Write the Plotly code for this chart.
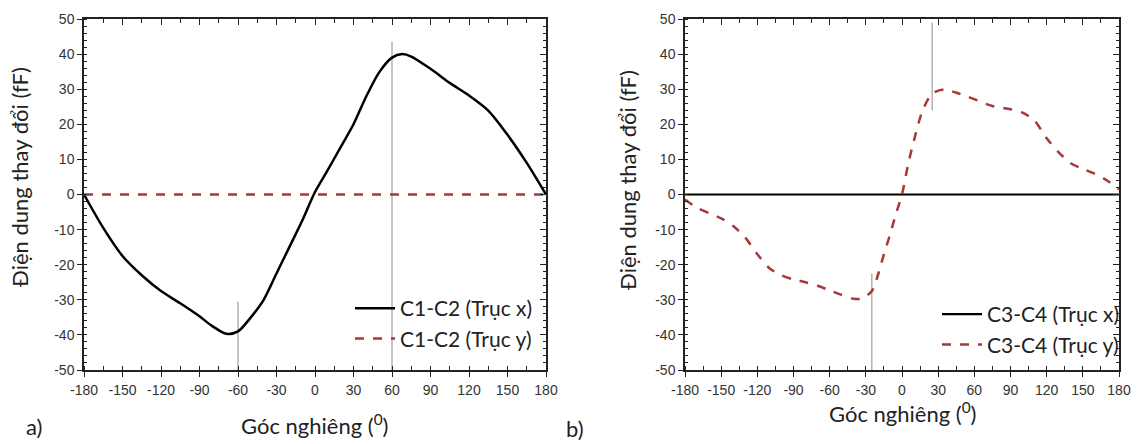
import plotly.graph_objects as go

# ---------------- data ----------------
angle_a = [-180, -165, -150, -135, -120, -105, -90, -80, -69, -60, -50, -40, -30, -20, -10,
           0, 10, 20, 30, 40, 50, 60, 68, 75, 90, 105, 120, 135, 150, 165, 180]
c12_x = [0, -9.5, -17.5, -23, -27.5, -31, -34.7, -37.5, -39.7, -39, -35, -30, -22.5, -15, -7.5,
         0.7, 7, 13.5, 20, 28, 34.8, 39, 40, 39.3, 35.8, 31.8, 28.2, 23.9, 17, 9, 0]
angle_a_y = [-180, 180]
c12_y = [0, 0]

angle_b = [-180, -170, -160, -150, -140, -130, -120, -110, -100, -90, -80, -70, -60, -50, -40,
           -33, -25, -20, -15, -10, -5, 0, 5, 10, 17, 25, 35, 45, 55, 75, 90, 100, 110, 120,
           130, 140, 150, 160, 170, 180]
c34_y = [-1.4, -3.8, -5.3, -6.8, -9, -12.3, -17, -21, -23, -24.2, -25, -26, -27.3, -28.6, -29.7,
         -29.6, -27.5, -23, -17, -11.5, -5.5, 0, 8.5, 15.5, 23.8, 28.7, 29.9, 29, 27.8, 25.2,
         24.3, 23.3, 21, 16, 12, 8.9, 7.3, 5.9, 4, 1.5]
angle_b_x = [-180, 180]
c34_x = [0, 0]

# marker lines: (angle, y_from, y_to)
guides_a = [(60, 43.5, -50), (-60, -30.5, -50)]
guides_b = [(25, 49, 24), (-25, -22.5, -50)]

x_tickvals = [-180, -150, -120, -90, -60, -30, 0, 30, 60, 90, 120, 150, 180]
x_ticktext = ["-180", "-150", "-120", "-90", "-60", "-30", "0", "30", "60", "90", "120", "150", "180"]
y_tickvals = [-50, -40, -30, -20, -10, 0, 10, 20, 30, 40, 50]
y_ticktext = ["-50", "-40", "-30", "-20", "-10", "0", "10", "20", "30", "40", "50"]
x_range = [-180, 180]
y_range = [-50, 50]

RED = "#a83838"
W, H = 1137, 444
dom_a = [84 / W, 546 / W]
dom_b = [685 / W, 1119 / W]
dom_y = [1 - 370 / H, 1 - 19 / H]

fig = go.Figure()
fig.add_trace(go.Scatter(x=angle_a, y=c12_x, mode="lines", name="C1-C2 (Trục x)",
                         line=dict(color="black", width=2.5, shape="spline", smoothing=0.8),
                         xaxis="x", yaxis="y", legend="legend"))
fig.add_trace(go.Scatter(x=angle_a_y, y=c12_y, mode="lines", name="C1-C2 (Trục y)",
                         line=dict(color=RED, width=2.5, dash="dash"),
                         xaxis="x", yaxis="y", legend="legend"))
fig.add_trace(go.Scatter(x=angle_b_x, y=c34_x, mode="lines", name="C3-C4 (Trục x)",
                         line=dict(color="black", width=2.2),
                         xaxis="x2", yaxis="y2", legend="legend2"))
fig.add_trace(go.Scatter(x=angle_b, y=c34_y, mode="lines", name="C3-C4 (Trục y)",
                         line=dict(color=RED, width=2.5, dash="dash", shape="spline", smoothing=0.8),
                         xaxis="x2", yaxis="y2", legend="legend2"))
# empty traces so that the mirrored (top/right) tick axes are drawn
for xa, ya in (("x3", "y3"), ("x4", "y4")):
    fig.add_trace(go.Scatter(x=[None], y=[None], mode="lines", xaxis=xa, yaxis=ya,
                             showlegend=False, hoverinfo="skip"))

shapes = []
for a, y0, y1 in guides_a:
    shapes.append(dict(type="line", xref="x", yref="y", x0=a, x1=a, y0=y0, y1=y1,
                       line=dict(color="#8c8c8c", width=1), layer="below"))
for a, y0, y1 in guides_b:
    shapes.append(dict(type="line", xref="x2", yref="y2", x0=a, x1=a, y0=y0, y1=y1,
                       line=dict(color="#8c8c8c", width=1), layer="below"))

tickfont = dict(family="Liberation Sans, Arial", size=14, color="#333")
AX = "#222"

def xax(domain, anchor):
    return dict(domain=domain, anchor=anchor, range=x_range, tickmode="array",
                tickvals=x_tickvals, ticktext=x_ticktext, ticks="outside", ticklen=5,
                tickwidth=1.2, tickcolor=AX,
                minor=dict(tickmode="linear", dtick=15, tick0=-180, ticks="inside", ticklen=4,
                           tickcolor=AX),
                showline=True, linecolor=AX, linewidth=1.5, showgrid=False, zeroline=False,
                tickfont=tickfont, ticklabelstandoff=1)

def yax(domain, anchor):
    return dict(domain=domain, anchor=anchor, range=y_range, tickmode="array",
                tickvals=y_tickvals, ticktext=y_ticktext, ticks="outside", ticklen=5,
                tickwidth=1.2, tickcolor=AX,
                minor=dict(tickmode="linear", dtick=2, tick0=-50, ticks="inside", ticklen=3,
                           tickcolor=AX),
                showline=True, linecolor=AX, linewidth=1.5, showgrid=False, zeroline=False,
                tickfont=tickfont)

def xmirror(over, anchor):
    return dict(overlaying=over, side="top", anchor=anchor, range=x_range,
                tickmode="linear", tick0=-180, dtick=30, ticks="inside", ticklen=6,
                tickcolor=AX, tickwidth=1.2,
                minor=dict(dtick=15, tick0=-180, ticks="inside", ticklen=4, tickcolor=AX),
                showticklabels=False, showline=True, linecolor=AX, linewidth=1.5,
                showgrid=False, zeroline=False)

def ymirror(over, anchor):
    return dict(overlaying=over, side="right", anchor=anchor, range=y_range,
                tickmode="linear", tick0=-50, dtick=10, ticks="inside", ticklen=6,
                tickcolor=AX, tickwidth=1.2,
                minor=dict(dtick=2, tick0=-50, ticks="inside", ticklen=3, tickcolor=AX),
                showticklabels=False, showline=True, linecolor=AX, linewidth=1.5,
                showgrid=False, zeroline=False)

titlefont = dict(family="Lato, Open Sans, sans-serif", size=22, color="#222")
annotations = [
    dict(text="Điện dung thay đổi (fF)", xref="paper", yref="paper", x=19 / W, y=1 - 177 / H,
         textangle=-90, showarrow=False, font=titlefont, xanchor="center", yanchor="middle"),
    dict(text="Điện dung thay đổi (fF)", xref="paper", yref="paper", x=627 / W, y=1 - 180 / H,
         textangle=-90, showarrow=False, font=titlefont, xanchor="center", yanchor="middle"),
    dict(text="Góc nghiêng (<sup>0</sup>)", xref="paper", yref="paper", x=314 / W, y=1 - 424 / H,
         showarrow=False, font=titlefont, xanchor="center", yanchor="middle"),
    dict(text="Góc nghiêng (<sup>0</sup>)", xref="paper", yref="paper", x=902 / W, y=1 - 412 / H,
         showarrow=False, font=titlefont, xanchor="center", yanchor="middle"),
    dict(text="a)", xref="paper", yref="paper", x=34 / W, y=1 - 426 / H,
         showarrow=False, font=titlefont, xanchor="center", yanchor="middle"),
    dict(text="b)", xref="paper", yref="paper", x=575 / W, y=1 - 428 / H,
         showarrow=False, font=titlefont, xanchor="center", yanchor="middle"),
]

legfont = dict(family="Lato, Open Sans, sans-serif", size=21, color="#222")
fig.update_layout(
    width=W, height=H, margin=dict(l=0, r=0, t=0, b=0, autoexpand=False),
    paper_bgcolor="white", plot_bgcolor="white",
    xaxis=xax(dom_a, "y"), yaxis=yax(dom_y, "x"),
    xaxis2=xax(dom_b, "y2"), yaxis2=yax(dom_y, "x2"),
    xaxis3=xmirror("x", "y"), yaxis3=ymirror("y", "x"),
    xaxis4=xmirror("x2", "y2"), yaxis4=ymirror("y2", "x2"),
    shapes=shapes, annotations=annotations,
    legend=dict(x=350 / W, y=1 - 288 / H, xanchor="left", yanchor="top",
                bgcolor="rgba(0,0,0,0)", font=legfont, tracegroupgap=0, itemwidth=40),
    legend2=dict(x=937 / W, y=1 - 294 / H, xanchor="left", yanchor="top",
                 bgcolor="rgba(0,0,0,0)", font=legfont, tracegroupgap=0, itemwidth=40),
)

fig.write_html("out.html")
